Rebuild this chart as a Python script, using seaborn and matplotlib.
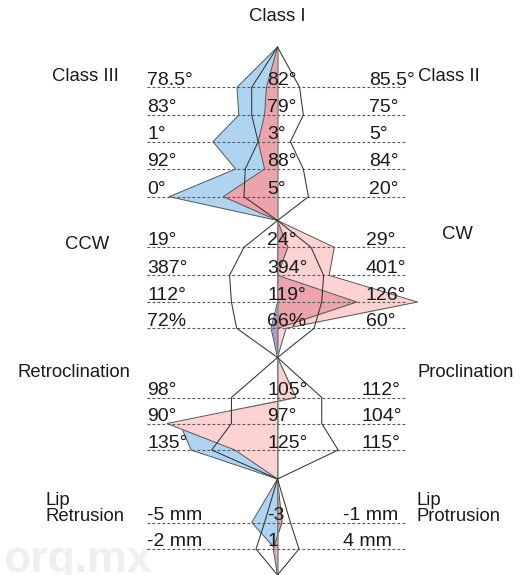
import numpy as np
import matplotlib
matplotlib.use("Agg")
import matplotlib.pyplot as plt
import seaborn as sns

# scale of each row: left end, norm (centre), right end
scale_left = [78.5, 83, 1, 92, 0, 19, 387, 112, 72, 98, 90, 135, -5, -2]
scale_center = [82, 79, 3, 88, 5, 24, 394, 119, 66, 105, 97, 125, -3, 1]
scale_right = [85.5, 75, 5, 84, 20, 29, 401, 126, 60, 112, 104, 115, -1, 4]

left_labels = ["78.5°", "83°", "1°", "92°", "0°", "19°", "387°", "112°", "72%",
               "98°", "90°", "135°", "-5 mm", "-2 mm"]
center_labels = ["82°", "79°", "3°", "88°", "5°", "24°", "394°", "119°", "66%",
                 "105°", "97°", "125°", "-3", "1"]
right_labels = ["85.5°", "75°", "5°", "84°", "20°", "29°", "401°", "126°", "60°",
                "112°", "104°", "115°", "-1 mm", "4 mm"]

# patient polygons (measured values)
blue = [80.9, 80.2, 2.0, 89.3, 0.8, 24, 394, 119, 66.3, 106, 91.7, 131.7, -3.4, 0.95]
rose = [81.7, 79.4, 2.7, 88.4, 2.9, 24.4, 394, 123.3, 66, 105, 97, 125, -2.93, 0.9]
pink = [82, 79, 3, 88, 5, 26.2, 396.8, 126.6, 65.6, 106, 91.0, 128.3, -3, 1]
# norm envelope
sd_low = [81.3, 79.8, 2.7, 89.0, 3.7, 22.7, 391.4, 116.5, 67.9, 102.5, 94.5, 130.1, -3.2, 0.5]
sd_high = [82.6, 78.2, 3.2, 87.2, 8.6, 25.3, 396.5, 121.4, 64.3, 107.4, 99.4, 120.3, -2.8, 1.5]

# layout (pixel rows, top-down)
apex_top, apex_bottom = 47, 575
row_y = [87.3, 115, 141.7, 169, 196.7, 247.3, 275.3, 302, 328.3,
         397.5, 423.5, 450, 522.5, 549]
nodes = [220.5, 357.5, 479]
sections = [5, 4, 3, 2]
right_x = [0.709] * 5 + [0.686] * 4 + [0.653] * 3 + [0.51] * 2

BLUE, ROSE, PINK, PURPLE = "#afd4f1", "#eba4ac", "#fcd2d2", "#a99ad2"
EDGE, TXT = "#555555", "#1a1a1a"


def to_axis(v, lo, mid, hi):
    d = v - mid
    if d * (hi - mid) >= 0:
        return d / (hi - mid)
    return d / (mid - lo)


def path(values):
    xs, ys = [0.0], [apex_top]
    i = 0
    for k, n in enumerate(sections):
        for j in range(i, i + n):
            xs.append(to_axis(values[j], scale_left[j], scale_center[j], scale_right[j]))
            ys.append(row_y[j])
        i += n
        xs.append(0.0)
        ys.append(nodes[k] if k < len(nodes) else apex_bottom)
    return np.array(xs), np.array(ys)


sns.set_theme(style="white")
plt.rcParams["font.family"] = ["Liberation Sans", "DejaVu Sans"]

fig = plt.figure(figsize=(5.28, 5.75), dpi=100)
ax = fig.add_axes([0, 0, 1, 1])

# watermark
ax.text(-2.128, 572, "org.mx", fontsize=32, fontweight="bold", color="#efefef",
        ha="left", va="baseline", zorder=0)

# blue patient (purple where it overlaps in the middle block)
x, y = path(blue)
mid = (y >= nodes[0]) & (y <= nodes[1])
ax.fill_betweenx(y, 0, x, where=(y <= nodes[0]) | (y >= nodes[1]), color=BLUE, lw=0, zorder=1)
ax.fill_betweenx(y, 0, x, where=mid, color=PURPLE, lw=0, zorder=1)
sns.lineplot(x=x, y=y, sort=False, estimator=None, color=EDGE, lw=0.7, ax=ax, zorder=1.1)

x, y = path(pink)
ax.fill_betweenx(y, 0, x, color=PINK, lw=0, zorder=2)
sns.lineplot(x=x, y=y, sort=False, estimator=None, color=EDGE, lw=0.7, ax=ax, zorder=2.1)

x, y = path(rose)
ax.fill_betweenx(y, 0, x, color=ROSE, lw=0, zorder=3)
sns.lineplot(x=x, y=y, sort=False, estimator=None, color=EDGE, lw=0.7, ax=ax, zorder=3.1)

# centre axis and row lines
ax.vlines(0, apex_top, apex_bottom, color="#8c8c8c", lw=1.1, zorder=4)
ax.hlines(row_y, -1.01, 1.0, color="#555555", lw=0.8, linestyles=(0, (2.5, 2)), zorder=4)

# norm envelope
for vals in (sd_low, sd_high):
    x, y = path(vals)
    sns.lineplot(x=x, y=y, sort=False, estimator=None, color="#333333", lw=0.75, ax=ax, zorder=5)

# value labels
for j, yy in enumerate(row_y):
    ax.text(-1.01, yy - 2.5, left_labels[j], fontsize=14, color=TXT, ha="left", va="baseline", zorder=6)
    ax.text(-0.081, yy - 2.5, center_labels[j], fontsize=14, color=TXT, ha="left", va="baseline", zorder=6)
    ax.text(right_x[j], yy - 2.5, right_labels[j], fontsize=14, color=TXT, ha="left", va="baseline", zorder=6)

# block titles
titles = [
    (0.0, 21, "Class I", "center"),
    (-1.748, 81, "Class III", "left"),
    (1.089, 81, "Class II", "left"),
    (-1.647, 249, "CCW", "left"),
    (1.275, 239, "CW", "left"),
    (-2.012, 377, "Retroclination", "left"),
    (1.089, 377, "Proclination", "left"),
    (-1.795, 505, "Lip", "left"),
    (-1.795, 521, "Retrusion", "left"),
    (1.074, 505, "Lip", "left"),
    (1.074, 521, "Protrusion", "left"),
]
for tx, ty, s, ha in titles:
    ax.text(tx, ty, s, fontsize=13.3, color=TXT, ha=ha, va="baseline", zorder=6)

ax.set_xlim(-277.5 / 129, (528 - 277.5) / 129)
ax.set_ylim(575, 0)
ax.axis("off")

fig.savefig("out.png", dpi=100, facecolor="white")
